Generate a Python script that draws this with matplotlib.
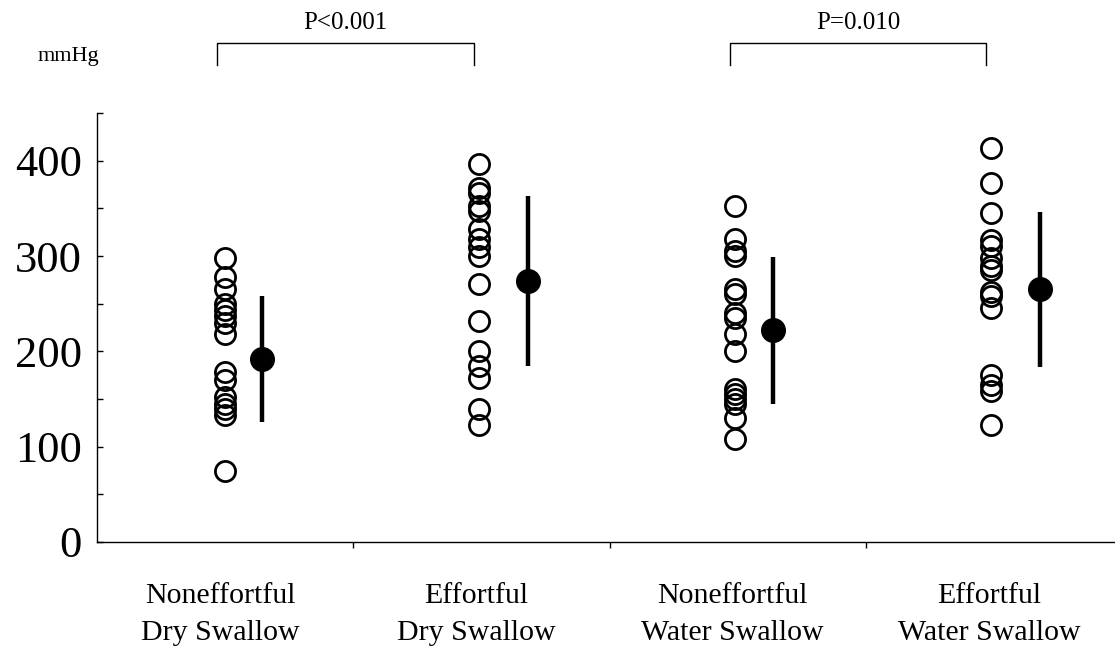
import matplotlib
matplotlib.use("Agg")
import matplotlib.pyplot as plt
from matplotlib.ticker import MultipleLocator

categories = ["Noneffortful\nDry Swallow", "Effortful\nDry Swallow",
              "Noneffortful\nWater Swallow", "Effortful\nWater Swallow"]

nonef_dry = [298, 278, 265, 250, 243, 237, 230, 218, 178, 170, 152, 145, 140, 133, 75]
eff_dry = [397, 371, 366, 353, 347, 328, 318, 309, 300, 271, 232, 200, 185, 172, 140, 123]
nonef_water = [352, 318, 305, 300, 265, 260, 240, 235, 218, 200, 160, 155, 150, 145, 130, 108]
eff_water = [413, 377, 345, 317, 310, 298, 290, 285, 262, 258, 245, 175, 165, 158, 123]
groups = [nonef_dry, eff_dry, nonef_water, eff_water]

means = [192, 274, 222, 265]
sds = [66, 89, 77, 81]

p_labels = ["P<0.001", "P=0.010"]
p_pairs = [(0, 1), (2, 3)]

plt.rcParams['font.family'] = ['Liberation Serif', 'DejaVu Serif']

fig = plt.figure(figsize=(11.15, 6.46), dpi=100)
ax = fig.add_axes([0.087, 0.161, 0.913, 0.664])

circle_off = [0.0, -0.01, -0.01, -0.01]
mean_off = [0.145, 0.18, 0.137, 0.18]

for i, vals in enumerate(groups):
    ax.plot([i + circle_off[i]] * len(vals), vals, linestyle='none', marker='o',
            markersize=14.5, markerfacecolor='none', markeredgecolor='black',
            markeredgewidth=2.0, zorder=3)
    ax.errorbar(i + mean_off[i], means[i], yerr=sds[i], fmt='o', color='black',
                markersize=17, elinewidth=3.2, capsize=0, zorder=4)

ax.set_xlim(-0.5, 3.472)
ax.set_ylim(0, 450)

for s in ['top', 'right']:
    ax.spines[s].set_visible(False)
for s in ['left', 'bottom']:
    ax.spines[s].set_linewidth(1.0)

ax.yaxis.set_major_locator(MultipleLocator(100))
ax.yaxis.set_minor_locator(MultipleLocator(50))
ax.tick_params(axis='y', which='major', direction='in', length=4, width=1,
               labelsize=32, pad=11)
ax.tick_params(axis='y', which='minor', direction='in', length=4, width=1)

ax.set_xticks([0.5, 1.5, 2.5])
ax.set_xticklabels([])
ax.tick_params(axis='x', which='major', direction='out', length=4, width=1)
ax.tick_params(axis='x', which='minor', length=0)

for i, lab in enumerate(categories):
    ax.text(i - 0.02, -43, lab, ha='center', va='top', fontsize=21.5,
            linespacing=1.55, transform=ax.transData, clip_on=False)

# significance brackets
for (a, b), lab in zip(p_pairs, p_labels):
    xa, xb = a - 0.03, b - 0.03
    y_top, y_bot = 524, 500
    ax.plot([xa, xa, xb, xb], [y_bot, y_top, y_top, y_bot], color='black',
            lw=1.0, clip_on=False)
    ax.text((xa + xb) / 2, y_top + 9, lab, ha='center', va='bottom',
            fontsize=18, clip_on=False)

fig.text(0.034, 0.912, "mmHg", ha='left', va='center', fontsize=16)

fig.savefig("out.png", dpi=100)
